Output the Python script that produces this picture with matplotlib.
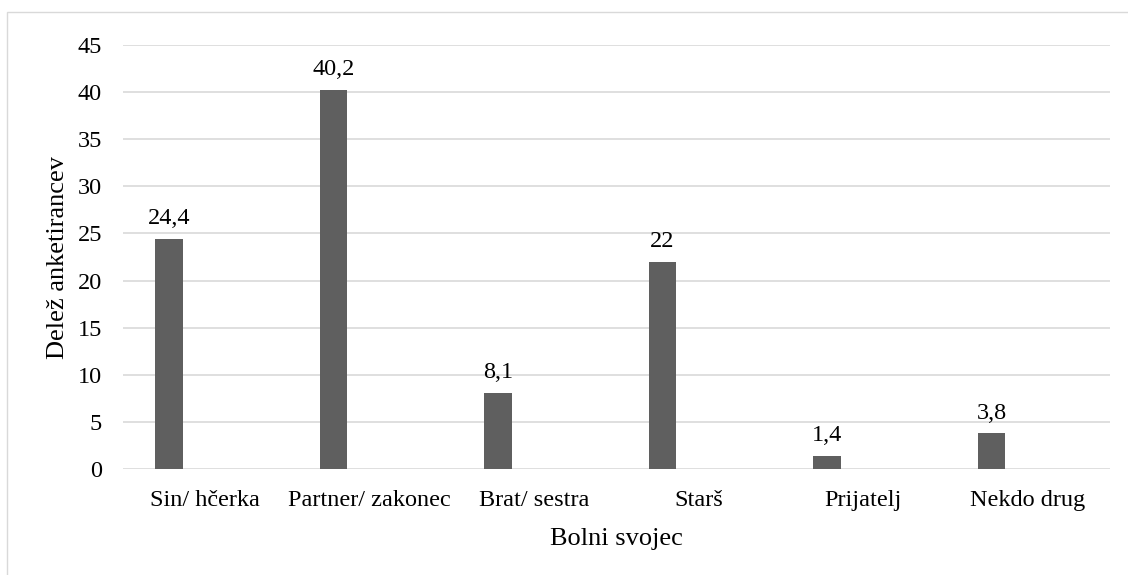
import matplotlib.pyplot as plt
from matplotlib.patches import Rectangle
import numpy as np

plt.rcParams['font.family'] = ['Liberation Serif', 'DejaVu Serif']

categories = ['Sin/ hčerka', 'Partner/ zakonec', 'Brat/ sestra', 'Starš', 'Prijatelj', 'Nekdo drug']
values = [24.4, 40.2, 8.1, 22, 1.4, 3.8]
value_labels = ['24,4', '40,2', '8,1', '22', '1,4', '3,8']
yticks = [0, 5, 10, 15, 20, 25, 30, 35, 40, 45]

fig = plt.figure(figsize=(11.28, 5.75), dpi=100)
ax = fig.add_axes([0.109, 0.184, 0.875, 0.738])

# chart frame (runs past the right and bottom edges)
fig.patches.append(Rectangle((7 / 1128, -0.05), 1.05, 1.05 - 12 / 575,
                             transform=fig.transFigure, fill=False,
                             edgecolor='#d9d9d9', linewidth=1))

x = np.arange(len(categories))
bars = ax.bar(x - 0.22, values, width=0.17, color='#5f5f5f', zorder=3)
for b, lab in zip(bars, value_labels):
    ax.annotate(lab, (b.get_x() + b.get_width() / 2, b.get_height()),
                xytext=(0, 7), textcoords='offset points',
                ha='center', va='bottom', fontsize=17.5)

ax.set_xlim(-0.5, len(categories) - 0.5)
ax.set_ylim(0, 45)
ax.set_yticks(yticks)
ax.set_xticks(x)
ax.set_xticklabels(categories)
ax.tick_params(axis='both', length=0, labelsize=17.5, colors='black')
ax.tick_params(axis='x', pad=15)
ax.tick_params(axis='y', pad=15)
ax.grid(axis='y', color='#d9d9d9', linewidth=1.2, zorder=0)
for s in ax.spines.values():
    s.set_visible(False)

ax.set_xlabel('Bolni svojec', fontsize=19, labelpad=12)
ax.set_ylabel('Delež anketirancev', fontsize=19, labelpad=6)

fig.savefig('out.png', dpi=100)
